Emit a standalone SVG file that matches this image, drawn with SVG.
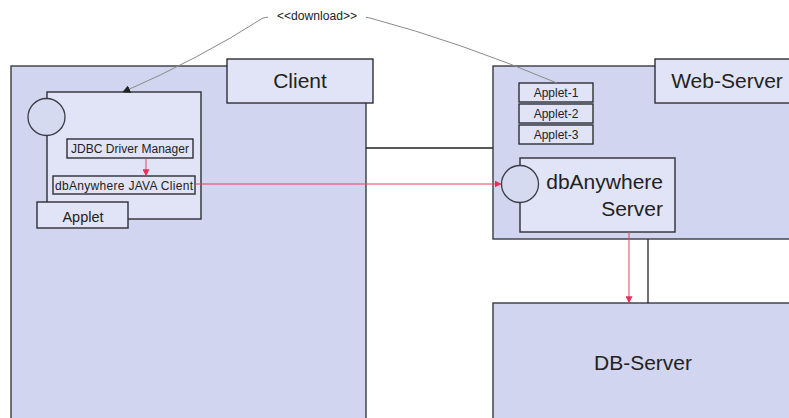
<svg xmlns="http://www.w3.org/2000/svg" width="789" height="418" viewBox="0 0 789 418">
<style>
.big{fill:#d1d5ef;stroke:#3a3a44;stroke-width:1.4}
.lbl{fill:#e1e4f6;stroke:#2e2e36;stroke-width:1.4}
.in{fill:#e1e4f6;stroke:#2e2e36;stroke-width:1.4}
.circ{fill:#d6daf1;stroke:#3a3a44;stroke-width:1.3}
.t{font-family:"Liberation Sans",Arial,sans-serif;fill:#222}
.line{stroke:#222;stroke-width:1.3;fill:none}
.red{stroke:#e8405e;stroke-width:1;fill:none}
</style>
<defs>
<marker id="ar" viewBox="0 0 10 10" refX="9" refY="5" markerWidth="7" markerHeight="7" orient="auto" markerUnits="userSpaceOnUse"><path d="M0,0 L10,5 L0,10 z" fill="#e8305a"/></marker>
<marker id="ab" viewBox="0 0 10 10" refX="9" refY="5" markerWidth="8" markerHeight="8" orient="auto" markerUnits="userSpaceOnUse"><path d="M0,0 L10,5 L0,10 z" fill="#222"/></marker>
</defs>
<rect width="789" height="418" fill="#fff"/>

<g id="client">
<rect class="big" x="11" y="66" width="355" height="360"/>
<rect class="lbl" x="227" y="59" width="146" height="44"/>
<text class="t" x="300" y="88" font-size="21" text-anchor="middle">Client</text>
</g>

<g id="applet">
<rect class="in" x="47" y="92" width="154" height="127"/>
<circle class="circ" cx="46.5" cy="117" r="18.5"/>
<rect class="lbl" x="37" y="202" width="91" height="26"/>
<text class="t" x="83" y="222" font-size="14.5" text-anchor="middle">Applet</text>
</g>

<g id="jdbc">
<rect class="in" x="67" y="139" width="126" height="19"/>
<text class="t" x="130" y="153" font-size="12" text-anchor="middle" textLength="118">JDBC Driver Manager</text>
</g>

<g id="javaclient">
<rect class="in" x="53" y="176" width="142" height="18"/>
<text class="t" x="124" y="190" font-size="12" text-anchor="middle" textLength="138">dbAnywhere JAVA Client</text>
</g>

<g id="webserver">
<rect class="big" x="493" y="66" width="310" height="173"/>
<rect class="lbl" x="655" y="59" width="140" height="44"/>
<text class="t" x="727" y="88" font-size="21" text-anchor="middle">Web-Server</text>
</g>

<g id="applet1">
<rect class="in" x="519" y="83" width="74" height="19"/>
<text class="t" x="556" y="97" font-size="12" text-anchor="middle">Applet-1</text>
</g>
<g id="applet2">
<rect class="in" x="519" y="104" width="74" height="19"/>
<text class="t" x="556" y="118" font-size="12" text-anchor="middle">Applet-2</text>
</g>
<g id="applet3">
<rect class="in" x="519" y="125" width="74" height="19"/>
<text class="t" x="556" y="139" font-size="12" text-anchor="middle">Applet-3</text>
</g>

<g id="dbaserver">
<rect class="in" x="520" y="158" width="155" height="74"/>
<circle class="circ" cx="520" cy="184" r="18.5"/>
<text class="t" x="663" y="189" font-size="21" text-anchor="end">dbAnywhere</text>
<text class="t" x="663" y="216" font-size="21" text-anchor="end">Server</text>
</g>

<g id="dbserver">
<rect class="big" x="493" y="303" width="310" height="130"/>
<text class="t" x="643" y="370" font-size="21" text-anchor="middle">DB-Server</text>
</g>

<g id="connectors">
<line class="line" x1="366" y1="148" x2="493" y2="148"/>
<line class="line" x1="648" y1="239" x2="648" y2="303"/>
<line class="red" x1="146" y1="158" x2="146" y2="175.5" marker-end="url(#ar)"/>
<line class="red" x1="195" y1="184" x2="501" y2="184" marker-end="url(#ar)"/>
<line class="red" x1="629" y1="232" x2="629" y2="302.5" marker-end="url(#ar)"/>
<path d="M557,83 Q460,42 370,18 Q316,6 263,18 Q199,59 123,92" fill="none" stroke="#8a8a8a" stroke-width="1" marker-end="url(#ab)"/>
<rect x="268" y="8" width="98" height="16" fill="#fff"/>
<text class="t" x="317" y="20" font-size="12" text-anchor="middle" textLength="80" lengthAdjust="spacingAndGlyphs">&lt;&lt;download&gt;&gt;</text>
</g>
</svg>
